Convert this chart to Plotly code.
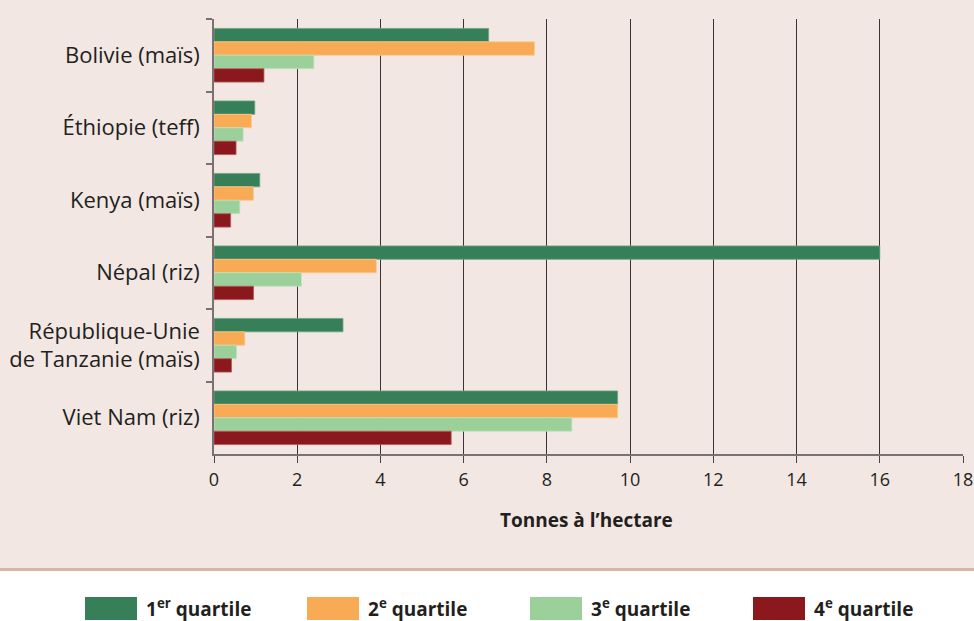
import plotly.graph_objects as go

# Crop yields by quartile (tonnes per hectare)
categories = [
    "Bolivie (maïs)",
    "Éthiopie (teff)",
    "Kenya (maïs)",
    "Népal (riz)",
    "République-Unie<br>de Tanzanie (maïs)",
    "Viet Nam (riz)",
]
series_names = [
    "1<sup>er</sup> quartile",
    "2<sup>e</sup> quartile",
    "3<sup>e</sup> quartile",
    "4<sup>e</sup> quartile",
]
q1 = [6.6, 0.98, 1.1, 16.0, 3.1, 9.7]
q2 = [7.7, 0.9, 0.95, 3.9, 0.74, 9.7]
q3 = [2.4, 0.7, 0.62, 2.1, 0.54, 8.6]
q4 = [1.2, 0.53, 0.4, 0.95, 0.42, 5.7]
x_ticks = [0, 2, 4, 6, 8, 10, 12, 14, 16, 18]

colors = ["#367F58", "#F8AA55", "#9BD09B", "#8B181D"]
edge_colors = ["#6FA585", "#FBC890", "#BFE2BE", "#B05A5C"]
bg = "#F2E7E3"

W, H = 974, 621
ml, mr, mt, mb = 214, 11, 19, 167
pw, ph = W - ml - mr, H - mt - mb


def px_to_paper_x(px):
    return (px - ml) / pw


def px_to_paper_y(py):
    return (H - mb - py) / ph


fig = go.Figure()
for name, vals, col, edge in zip(series_names, [q1, q2, q3, q4], colors, edge_colors):
    fig.add_trace(go.Bar(
        y=categories, x=vals, name=name, orientation="h",
        marker=dict(color=col, line=dict(color=edge, width=0.8)),
        showlegend=False,
    ))

shapes = []
annotations = []

# white band under the chart panel, with its separator rule
shapes.append(dict(type="rect", xref="paper", yref="paper",
                   x0=px_to_paper_x(-5), x1=px_to_paper_x(W + 5),
                   y0=px_to_paper_y(569), y1=px_to_paper_y(H + 5),
                   fillcolor="white", line=dict(width=0), layer="above"))
shapes.append(dict(type="line", xref="paper", yref="paper",
                   x0=px_to_paper_x(0), x1=px_to_paper_x(W),
                   y0=px_to_paper_y(569.5), y1=px_to_paper_y(569.5),
                   line=dict(color="#DDB4A7", width=3), layer="above"))

# legend: colour swatches and bold labels
swatch_x = [85, 307, 530, 753]
for sx, name, col in zip(swatch_x, series_names, colors):
    shapes.append(dict(type="rect", xref="paper", yref="paper",
                       x0=px_to_paper_x(sx), x1=px_to_paper_x(sx + 52),
                       y0=px_to_paper_y(597), y1=px_to_paper_y(620),
                       fillcolor=col, line=dict(width=0), layer="above"))
    annotations.append(dict(xref="paper", yref="paper",
                            x=px_to_paper_x(sx + 59), y=px_to_paper_y(607.5),
                            xanchor="left", yanchor="middle", showarrow=False,
                            text="<b>" + name + "</b>",
                            font=dict(family="Open Sans", size=19, color="#231F20")))

# axis title
annotations.append(dict(xref="paper", yref="paper", x=px_to_paper_x(586), y=px_to_paper_y(520),
                        xanchor="center", yanchor="middle", showarrow=False,
                        text="<b>Tonnes à l’hectare</b>",
                        font=dict(family="Open Sans", size=19, color="#231F20")))

fig.update_layout(
    width=W, height=H, autosize=False,
    margin=dict(l=ml, r=mr, t=mt, b=mb, pad=0, autoexpand=False),
    paper_bgcolor=bg, plot_bgcolor=bg,
    barmode="group", bargap=0.26, bargroupgap=0,
    shapes=shapes, annotations=annotations,
    font=dict(family="Open Sans", color="#231F20"),
    xaxis=dict(
        range=[0, 18], tickvals=x_ticks, ticktext=[str(v) for v in x_ticks],
        showgrid=True, gridcolor="#3A3434", gridwidth=1,
        zeroline=False, showline=True, linecolor="#7A7272", linewidth=1.5,
        ticks="outside", ticklen=7, tickcolor="#4A4444", tickwidth=1,
        tickfont=dict(size=18, color="#231F20"),
        ticklabelstandoff=2,
        automargin=False,
    ),
    yaxis=dict(
        autorange="reversed", type="category",
        showgrid=False, zeroline=False,
        showline=True, linecolor="#7A7272", linewidth=1.5,
        ticks="outside", tickson="boundaries", ticklen=6,
        tickcolor="#7A7272", tickwidth=1.5,
        tickfont=dict(size=22, color="#231F20"),
        ticklabelstandoff=8,
        automargin=False,
    ),
)

fig.write_html("out.html")
